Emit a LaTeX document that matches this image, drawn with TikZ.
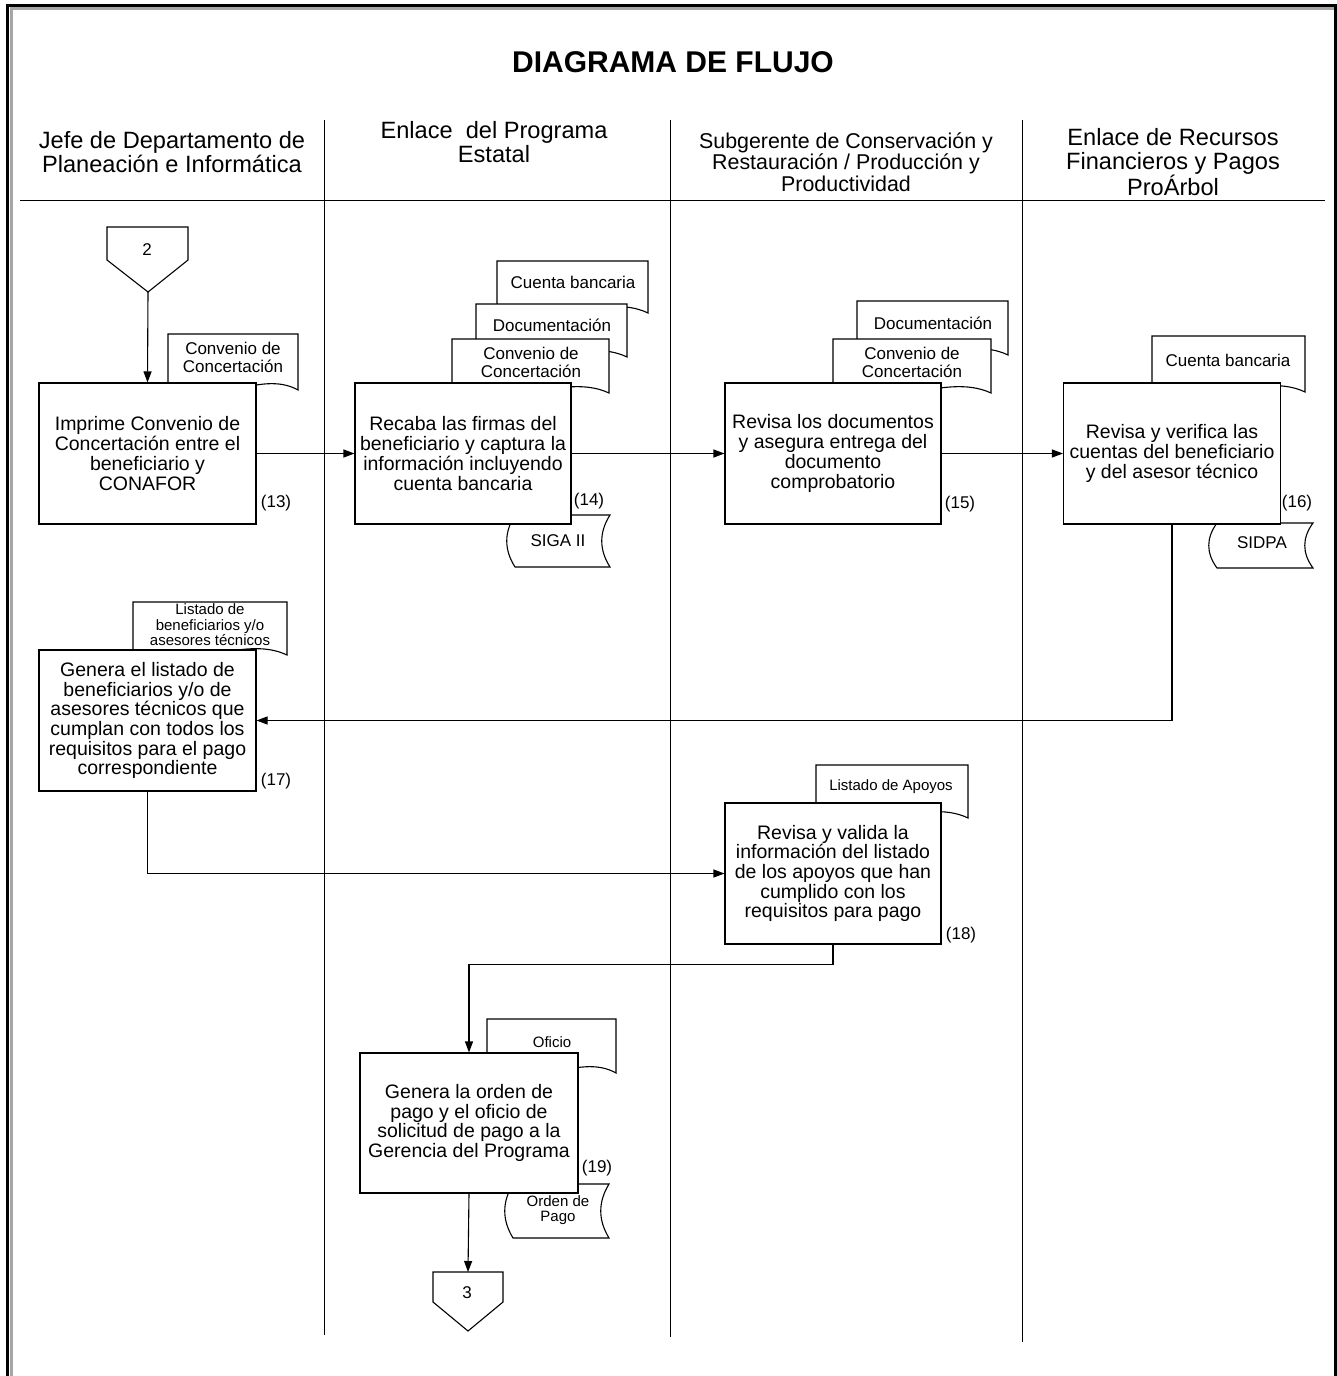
\documentclass[tikz,border=0pt]{standalone}
\usepackage{fontspec}
\setmainfont{Liberation Sans}
\usetikzlibrary{arrows.meta}

% document symbol: left, top, right, bottom (wavy lower edge)
\newcommand{\docshape}[4]{%
  \filldraw[fill=white] (#1,#4) -- (#1,#2) -- (#3,#2) -- (#3,#4)
    .. controls ({#3-0.3*(#3-#1)},{#4-22}) and ({#1+0.3*(#3-#1)},{#4+22}) .. (#1,#4) -- cycle;}
% stored-data symbol: left, top, right, bottom
\newcommand{\storeshape}[4]{%
  \filldraw[fill=white] (#1,#2) -- (#3,#2)
    .. controls ({#3-11},{#2+(#4-#2)/3}) and ({#3-11},{#4-(#4-#2)/3}) .. (#3,#4)
    -- (#1,#4)
    .. controls ({#1-11},{#4-(#4-#2)/3}) and ({#1-11},{#2+(#4-#2)/3}) .. (#1,#2) -- cycle;}

\begin{document}
\begin{tikzpicture}[x=1pt,y=-1pt,line width=1.1pt,
  proc/.style={draw, fill=white, rectangle, inner sep=0pt, align=center,
    minimum height=141pt, font=\fontsize{19.5}{19.7}\selectfont},
  doctext/.style={inner sep=0pt, align=center, font=\fontsize{17}{18}\selectfont},
  smalltext/.style={inner sep=0pt, align=center, font=\fontsize{15}{15.6}\selectfont},
  steplabel/.style={inner sep=0pt, font=\fontsize{17}{18}\selectfont},
  lanehead/.style={inner sep=0pt, align=center, font=\fontsize{23.6}{24}\selectfont},
  flow/.style={-{Triangle[length=11pt,width=8pt]}},
  laneline/.style={line width=1pt},
  ]
\useasboundingbox (0,0) rectangle (1337,1376);

% page frame (open at the bottom)
\draw[line width=3pt, black!35] (11,1376) -- (11,8) -- (1337,8);
\draw[line width=3pt, black] (7.5,1376) -- (7.5,5) -- (1335.7,5) -- (1335.7,1376);

% title
\node[inner sep=0pt, font=\bfseries\fontsize{30}{32}\selectfont] (title) at (673,62) {DIAGRAMA DE FLUJO};

% swimlane headers
\node[lanehead] (h1) at (172,152) {Jefe de Departamento de\\Planeación e Informática};
\node[lanehead] (h2) at (494,142) {Enlace\ \ del Programa\\Estatal};
\node[lanehead, font=\fontsize{21.4}{21.6}\selectfont] (h3) at (846,162) {Subgerente de Conservación y\\Restauración / Producción y\\Productividad};
\node[lanehead] (h4) at (1173,162) {Enlace de Recursos\\Financieros y Pagos\\ProÁrbol};

% swimlane separators
\draw[laneline] (20,200) -- (1325,200);
\draw[laneline] (324,120) -- (324,1335);
\draw[laneline] (670,120) -- (670,1337);
\draw[laneline] (1022,120) -- (1022,1342);

% off-page connector 2
\filldraw[fill=white] (107,227) -- (188,227) -- (188,260) -- (148,292) -- (107,260) -- cycle;
\node[steplabel] (c2) at (147,250) {2};
\coordinate (c2tip) at (148,292);

% documents and stores (behind the process boxes)
\docshape{168}{334}{298}{390}
\node[doctext] (d13) at (233,357) {Convenio de\\Concertación};

\docshape{497}{261}{648}{313}
\node[doctext] (d14a) at (573,282) {Cuenta bancaria};
\docshape{476}{304}{627}{357}
\node[doctext] (d14b) at (552,325) {Documentación};
\docshape{452}{339}{609}{393}
\node[doctext] (d14c) at (531,362) {Convenio de\\Concertación};
\storeshape{515}{515}{610}{567}
\node[doctext] (s14) at (558,541) {SIGA II};

\docshape{857}{301}{1008}{355}
\node[doctext] (d15a) at (933,323) {Documentación};
\docshape{833}{339}{991}{393}
\node[doctext] (d15b) at (912,362) {Convenio de\\Concertación};

\docshape{1152}{336}{1305}{392}
\node[doctext] (d16) at (1228,360) {Cuenta bancaria};
\storeshape{1217}{523}{1313}{568}
\node[doctext] (s16) at (1262,543) {SIDPA};

\docshape{133}{602}{287}{655}
\node[smalltext] (d17) at (210,625) {Listado de\\beneficiarios y/o\\asesores técnicos};

\docshape{816}{765}{968}{818}
\node[smalltext] (d18) at (891,787) {Listado de Apoyos};

\docshape{487}{1019}{616}{1073}
\node[smalltext] (d19) at (552,1042) {Oficio};
\storeshape{513}{1184}{609}{1238}
\node[smalltext] (s19) at (558,1210) {Orden de\\Pago};

% process boxes
\node[proc, minimum width=217pt] (b13) at (147.5,453.5) {Imprime Convenio de\\Concertación entre el\\beneficiario y\\CONAFOR};
\node[proc, minimum width=216pt] (b14) at (463,453.5) {Recaba las firmas del\\beneficiario y captura la\\información incluyendo\\cuenta bancaria};
\node[proc, minimum width=216pt] (b15) at (833,453.5) {Revisa los documentos\\y asegura entrega del\\documento\\comprobatorio};
\node[proc, minimum width=217pt] (b16) at (1172,453.5) {Revisa y verifica las\\cuentas del beneficiario\\y del asesor técnico};
\node[proc, minimum width=217pt] (b17) at (147.5,720.5) {Genera el listado de\\beneficiarios y/o de\\asesores técnicos que\\cumplan con todos los\\requisitos para el pago\\correspondiente};
\node[proc, minimum width=216pt] (b18) at (833,873.5) {Revisa y valida la\\información del listado\\de los apoyos que han\\cumplido con los\\requisitos para pago};
\node[proc, minimum width=218pt, minimum height=140pt] (b19) at (469,1123) {Genera la orden de\\pago y el oficio de\\solicitud de pago a la\\Gerencia del Programa};

% step numbers
\node[steplabel] (n13) at (276,503) {(13)};
\node[steplabel] (n14) at (589,501) {(14)};
\node[steplabel] (n15) at (960,504) {(15)};
\node[steplabel] (n16) at (1297,503) {(16)};
\node[steplabel] (n17) at (276,781) {(17)};
\node[steplabel] (n18) at (961,935) {(18)};
\node[steplabel] (n19) at (597,1168) {(19)};

% off-page connector 3
\filldraw[fill=white] (433,1272) -- (503,1272) -- (503,1302) -- (468,1331) -- (433,1302) -- cycle;
\node[steplabel] (c3) at (467,1293) {3};
\coordinate (c3top) at (468,1272);

% flow
\draw[flow] (c2tip) -- (b13.north);
\draw[flow] (b13.east) -- (b14.west);
\draw[flow] (b14.east) -- (b15.west);
\draw[flow] (b15.east) -- (b16.west);
\draw[flow] (b16.south) |- (b17.east);
\draw[flow] (b17.south) |- (b18.west);
\draw[flow] (b18.south) -- ++(0,20) -| (b19.north);
\draw[flow] (b19.south) -- (c3top);
\end{tikzpicture}
\end{document}
